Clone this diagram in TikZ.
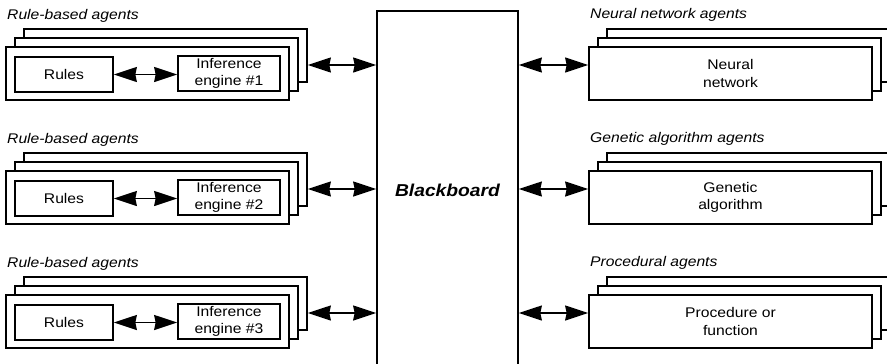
\documentclass[tikz,border=0pt]{standalone}
\usepackage{fontspec}
\setmainfont{Liberation Sans}[FakeStretch=1.12]
\usetikzlibrary{arrows.meta}
\begin{document}
\begin{tikzpicture}[x=1pt,y=-1pt,
  box/.style={draw,line width=1.7pt,fill=white,inner sep=0pt,
    minimum width=283pt,minimum height=53pt,align=center,
    font=\fontsize{14}{17.5}\selectfont},
  innerbox/.style={draw,line width=1.7pt,fill=white,inner sep=0pt,
    minimum height=35pt,align=center,
    font=\fontsize{14}{17.5}\selectfont},
  grouplabel/.style={anchor=west,inner sep=0pt,
    font=\fontsize{14}{17.5}\selectfont\itshape},
  biarrow/.style={line width=1.5pt,
    {Stealth[length=23pt,width=15pt,inset=1.5pt]}-{Stealth[length=23pt,width=15pt,inset=1.5pt]}}]
\useasboundingbox (0,0) rectangle (887,364);
\clip (0,0) rectangle (887,364);

% central blackboard
\node[draw,line width=1.7pt,fill=white,minimum width=141pt,minimum height=380pt,inner sep=0pt]
  (bb) at (447.5,201) {};
\node[inner sep=0pt,font=\fontsize{17.2}{20}\selectfont\bfseries\itshape] (bbtext) at (447.5,190) {Blackboard};

% three rule-based agents on the left, three other agents on the right
\foreach \o/\rt/\rl [count=\i] in {
    0/{Neural\\network}/{Neural network agents},
    124/{Genetic\\algorithm}/{Genetic algorithm agents},
    248/{Procedure or\\function}/{Procedural agents}}{
  \coordinate (lev\i) at (0,65+\o);
  % left stack
  \node[grouplabel] (llab\i) at (7,16+\o) {Rule-based agents};
  \node[box] (lback\i) at (165.5,55.5+\o) {};
  \node[box] (lmid\i) at (156.5,64.5+\o) {};
  \node[box] (lfront\i) at (147.5,73.5+\o) {};
  \node[innerbox,minimum width=98pt] (rules\i) at (64,74.5+\o) {Rules};
  \node[innerbox,minimum width=102pt] (inf\i) at (229,73.5+\o) {Inference\\engine \#\i};
  \draw[biarrow] (rules\i.east) -- (inf\i.west |- rules\i.east);
  \draw[biarrow] (lback\i.east |- lev\i) -- (bb.west |- lev\i);
  % right stack
  \node[grouplabel] (rlab\i) at (590,15+\o) {\rl};
  \node[box] (rback\i) at (748.5,55.5+\o) {};
  \node[box] (rmid\i) at (739.5,64.5+\o) {};
  \node[box] (rfront\i) at (730.5,73.5+\o) {\rt};
  \draw[biarrow] (bb.east |- lev\i) -- (rfront\i.west |- lev\i);
}
\end{tikzpicture}
\end{document}
